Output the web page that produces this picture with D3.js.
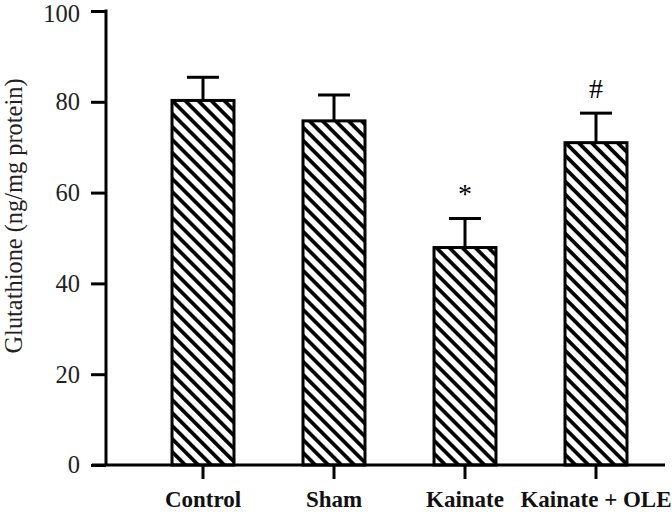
<!DOCTYPE html>
<html>
<head>
<meta charset="utf-8">
<script src="https://cdn.jsdelivr.net/npm/d3@7"></script>
<style>
  body { margin: 0; background: #fff; }
  svg { display: block; }
</style>
</head>
<body>
<div class="chart"></div>
<script>
var groups = ["Control", "Sham", "Kainate", "Kainate + OLE"];
var means = [80.3, 75.8, 47.9, 71.0];
var errors = [5.1, 5.7, 6.4, 6.5];
var marks = ["", "", "*", "#"];
var yTicks = [0, 20, 40, 60, 80, 100];

var WIDTH = 672, HEIGHT = 512;
var serif = "'Liberation Serif', 'Times New Roman', serif";

var svg = d3.select(".chart").append("svg")
    .attr("width", WIDTH)
    .attr("height", HEIGHT);

// hatch pattern, lines running top-left to bottom-right
var defs = svg.append("defs");
var pat = defs.append("pattern")
    .attr("id", "hatch")
    .attr("patternUnits", "userSpaceOnUse")
    .attr("width", 9.2)
    .attr("height", 9.2)
    .attr("patternTransform", "rotate(-45)");
pat.append("rect")
    .attr("width", 9.2)
    .attr("height", 9.2)
    .attr("fill", "#fff");
pat.append("line")
    .attr("x1", 4.6).attr("y1", 0)
    .attr("x2", 4.6).attr("y2", 9.2)
    .attr("stroke", "#000")
    .attr("stroke-width", 3.8);

// scales
var xScale = d3.scaleBand()
    .domain(groups)
    .range([137.5, 661.5])
    .paddingInner(0.527)
    .paddingOuter(0.2635);

var yScale = d3.scaleLinear()
    .domain([0, 100])
    .range([465, 11]);

// bars
svg.selectAll("rect.bar")
    .data(groups)
    .enter()
    .append("rect")
    .attr("class", "bar")
    .attr("x", d => xScale(d))
    .attr("y", (d, i) => yScale(means[i]))
    .attr("width", xScale.bandwidth())
    .attr("height", (d, i) => yScale(0) - yScale(means[i]))
    .attr("fill", "url(#hatch)")
    .attr("stroke", "#000")
    .attr("stroke-width", 3);

// error bars (upper only)
var cx = d => xScale(d) + xScale.bandwidth() / 2;
var errG = svg.append("g")
    .attr("stroke", "#000")
    .attr("stroke-width", 3);
errG.selectAll("line.stem")
    .data(groups)
    .enter()
    .append("line")
    .attr("class", "stem")
    .attr("x1", cx).attr("x2", cx)
    .attr("y1", (d, i) => yScale(means[i]))
    .attr("y2", (d, i) => yScale(means[i] + errors[i]));
errG.selectAll("line.cap")
    .data(groups)
    .enter()
    .append("line")
    .attr("class", "cap")
    .attr("x1", d => cx(d) - 16).attr("x2", d => cx(d) + 16)
    .attr("y1", (d, i) => yScale(means[i] + errors[i]))
    .attr("y2", (d, i) => yScale(means[i] + errors[i]));

// significance marks
svg.selectAll("text.mark")
    .data(groups)
    .enter()
    .append("text")
    .attr("class", "mark")
    .attr("x", cx)
    .attr("y", (d, i) => yScale(means[i] + errors[i]) - 15.5)
    .attr("text-anchor", "middle")
    .style("font-family", serif)
    .style("font-size", "28px")
    .text((d, i) => marks[i]);

// y axis
var yAxis = svg.append("g")
    .attr("transform", "translate(106,0)")
    .call(d3.axisLeft(yScale).tickValues(yTicks).tickSize(15).tickPadding(11).tickSizeOuter(0));
yAxis.select(".domain").remove();
yAxis.selectAll(".tick line").attr("stroke-width", 3);
yAxis.selectAll("text")
    .style("font-family", serif)
    .style("font-size", "24.5px")
    .attr("fill", "#222");
// top label sits at the edge, nudge it in a little
yAxis.selectAll(".tick text").filter(d => d === 100).attr("y", 3);
yAxis.append("line")
    .attr("x1", 0).attr("x2", 0)
    .attr("y1", yScale(100) - 1.5).attr("y2", yScale(0))
    .attr("stroke", "#000")
    .attr("stroke-width", 3);

// x axis
var xAxis = svg.append("g")
    .attr("transform", "translate(0," + yScale(0) + ")")
    .call(d3.axisBottom(xScale).tickSize(14).tickPadding(12).tickSizeOuter(0));
xAxis.select(".domain").remove();
xAxis.selectAll(".tick line").attr("stroke-width", 3);
xAxis.selectAll("text")
    .style("font-family", serif)
    .style("font-size", "23px")
    .style("font-weight", "bold")
    .attr("fill", "#111");
xAxis.append("line")
    .attr("x1", 92).attr("x2", 665)
    .attr("y1", 0).attr("y2", 0)
    .attr("stroke", "#000")
    .attr("stroke-width", 3);

// y axis title
svg.append("text")
    .attr("transform", "translate(22,216) rotate(-90)")
    .attr("text-anchor", "middle")
    .style("font-family", serif)
    .style("font-size", "24.4px")
    .attr("fill", "#222")
    .text("Glutathione (ng/mg protein)");
</script>
</body>
</html>
